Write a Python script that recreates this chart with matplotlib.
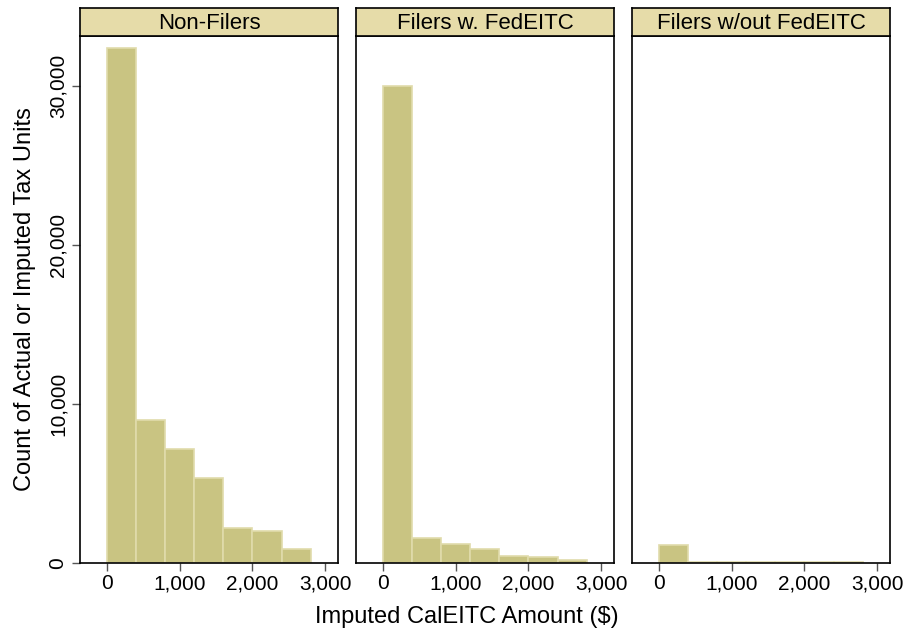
import matplotlib.pyplot as plt
from matplotlib.ticker import FuncFormatter

plt.rcParams['font.family'] = ['Liberation Sans', 'DejaVu Sans']

# histogram bins: $400 wide, starting at 0
bin_left = [0, 400, 800, 1200, 1600, 2000, 2400]
bin_width = 400

groups = ["Non-Filers", "Filers w. FedEITC", "Filers w/out FedEITC"]
counts = [
    [32400, 9000, 7150, 5350, 2200, 2000, 880],
    [30000, 1570, 1200, 880, 440, 380, 190],
    [1150, 60, 70, 40, 90, 90, 90],
]

fill = "#c9c482"
edge = "#e0dbab"
strip = "#e6dca9"

fig = plt.figure(figsize=(9.06, 6.32), dpi=100)
W, H = 906, 632
lefts = [80, 356, 632]
pw = 258
top, bottom = 36, 563
strip_h = 28

fmt = FuncFormatter(lambda v, p: f"{int(v):,}")

for i, (name, c) in enumerate(zip(groups, counts)):
    ax = fig.add_axes([lefts[i] / W, 1 - bottom / H, pw / W, (bottom - top) / H])
    ax.bar(bin_left, c, width=bin_width, align="edge", color=fill,
           edgecolor=edge, linewidth=1.2)
    ax.set_xlim(-370, 3175)
    ax.set_ylim(0, 33150)
    ax.set_xticks([0, 1000, 2000, 3000])
    ax.xaxis.set_major_formatter(fmt)
    ax.tick_params(axis="x", direction="out", length=6, width=1,
                   labelsize=15, colors="#555555", labelcolor="black", pad=2)
    for s in ax.spines.values():
        s.set_linewidth(1.2)
    if i == 0:
        ax.set_yticks([0, 10000, 20000, 30000])
        ax.yaxis.set_major_formatter(fmt)
        ax.tick_params(axis="y", direction="out", length=6, width=1,
                       labelsize=15, colors="#555555", labelcolor="black", pad=3)
        for lab in ax.get_yticklabels():
            lab.set_rotation(90)
            lab.set_va("center")
        ax.set_ylabel("Count of Actual or Imputed Tax Units", fontsize=17, labelpad=9)
    else:
        ax.set_yticks([])

    # panel header strip
    sax = fig.add_axes([lefts[i] / W, 1 - top / H, pw / W, strip_h / H])
    sax.set_facecolor(strip)
    sax.set_xticks([])
    sax.set_yticks([])
    for s in sax.spines.values():
        s.set_linewidth(1.2)
    sax.text(0.5, 0.45, name, ha="center", va="center", fontsize=16,
             transform=sax.transAxes)

fig.text(467 / W, 1 - 617 / H, "Imputed CalEITC Amount ($)", ha="center",
         va="center", fontsize=17)

fig.savefig("out.png", dpi=100)
